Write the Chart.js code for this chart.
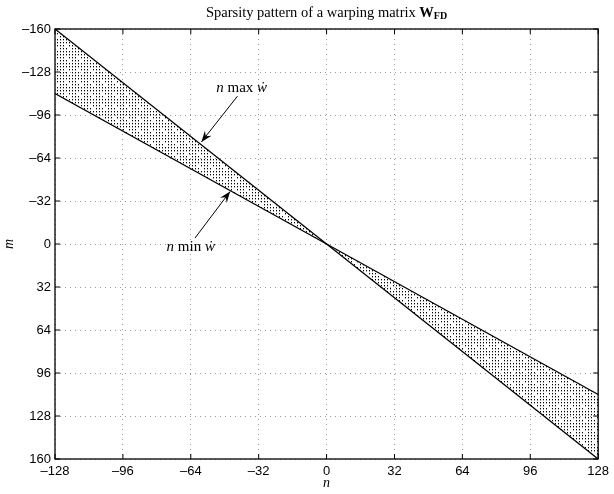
<!DOCTYPE html>
<html>
<head>
<meta charset="utf-8">
<script src="https://cdn.jsdelivr.net/npm/chart.js@4/dist/chart.umd.min.js"></script>
<style>
body { margin: 0; background: #fff; }
</style>
</head>
<body>
<canvas id="chart" width="614" height="494"></canvas>
<script>
// band edges of the warping matrix (n on x, m on y)
var nValues = [-128, 0, 128];
var maxEdge = [-160, 0, 160];
var minEdge = [-112, 0, 112];

var xTicks = [-128, -96, -64, -32, 0, 32, 64, 96, 128];
var yTicks = [-160, -128, -96, -64, -32, 0, 32, 64, 96, 128, 160];

// labels with arrows, in data units: text centre, arrow tail, arrow tip
var notes = [
    { parts: [['n', 'italic'], [' max ', ''], ['\u1E87', 'italic']], text: [-40, -116], from: [-42, -110], to: [-59, -76] },
    { parts: [['n', 'italic'], [' min ', ''], ['\u1E87', 'italic']], text: [-64, 2.5], from: [-62, -4.5], to: [-45.5, -39] }
];

var serif = '"Liberation Serif", "DejaVu Serif", serif';
var sans = '"Liberation Sans", Arial, sans-serif';

function dotPattern() {
    var c = document.createElement('canvas');
    c.width = 12; c.height = 12;
    var g = c.getContext('2d');
    g.fillStyle = '#000';
    var dots = [[0,0],[0,3],[0,6],[0,9],[3,0],[3,6],[3,9],[6,0],[6,3],[6,6],[9,3],[9,6],[9,9],[3,3]];
    dots.forEach(function (d) { g.fillRect(d[0], d[1], 1, 1); });
    g.fillStyle = 'rgba(0,0,0,0.35)';
    dots.forEach(function (d) { g.fillRect(d[0], d[1] + 1, 1, 1); });
    return document.getElementById('chart').getContext('2d').createPattern(c, 'repeat');
}

function dash(v) {
    return String(v).replace('-', '\u2013');
}

function drawArrow(ctx, x0, y0, x1, y1) {
    ctx.beginPath();
    ctx.moveTo(x0, y0);
    ctx.lineTo(x1, y1);
    ctx.stroke();
    var a = Math.atan2(y1 - y0, x1 - x0);
    var L = 11, W = 4.2;
    var c = Math.cos(a), s = Math.sin(a);
    ctx.beginPath();
    ctx.moveTo(x1, y1);
    ctx.lineTo(x1 - L * c + W * s, y1 - L * s - W * c);
    ctx.lineTo(x1 - 0.65 * L * c, y1 - 0.65 * L * s);
    ctx.lineTo(x1 - L * c - W * s, y1 - L * s + W * c);
    ctx.closePath();
    ctx.fill();
}

function drawParts(ctx, parts, cx, cy) {
    var total = 0;
    parts.forEach(function (p) {
        ctx.font = p.font;
        p.w = ctx.measureText(p.t).width;
        total += p.w;
    });
    var x = cx - total / 2;
    ctx.textAlign = 'left';
    ctx.textBaseline = 'middle';
    parts.forEach(function (p) {
        ctx.font = p.font;
        ctx.fillText(p.t, x, cy + (p.dy || 0));
        x += p.w;
    });
}

var framePlugin = {
    id: 'frame',
    afterDatasetsDraw: function (chart) {
        var ctx = chart.ctx, a = chart.chartArea;
        var xs = chart.scales.x, ys = chart.scales.y;
        ctx.save();
        ctx.strokeStyle = '#000';
        ctx.fillStyle = '#000';
        ctx.lineWidth = 1.3;
        ctx.strokeRect(a.left, a.top, a.right - a.left, a.bottom - a.top);
        ctx.lineWidth = 1;
        ctx.beginPath();
        xTicks.forEach(function (v) {
            var px = xs.getPixelForValue(v);
            ctx.moveTo(px, a.bottom); ctx.lineTo(px, a.bottom - 5);
            ctx.moveTo(px, a.top); ctx.lineTo(px, a.top + 5);
        });
        yTicks.forEach(function (v) {
            var py = ys.getPixelForValue(v);
            ctx.moveTo(a.left, py); ctx.lineTo(a.left + 5, py);
            ctx.moveTo(a.right, py); ctx.lineTo(a.right - 5, py);
        });
        ctx.stroke();

        notes.forEach(function (n) {
            drawArrow(ctx, xs.getPixelForValue(n.from[0]), ys.getPixelForValue(n.from[1]),
                xs.getPixelForValue(n.to[0]), ys.getPixelForValue(n.to[1]));
            drawParts(ctx, n.parts.map(function (p) {
                return { t: p[0], font: (p[1] ? p[1] + ' ' : '') + '15px ' + serif };
            }), xs.getPixelForValue(n.text[0]), ys.getPixelForValue(n.text[1]));
        });

        drawParts(ctx, [
            { t: 'Sparsity pattern of a warping matrix ', font: '14.5px ' + serif },
            { t: 'W', font: 'bold 14.5px ' + serif },
            { t: 'FD', font: 'bold 10px ' + serif, dy: 3 }
        ], (a.left + a.right) / 2, 13);
        ctx.restore();
    }
};

var chart = new Chart(document.getElementById('chart'), {
    type: 'line',
    data: {
        labels: nValues,
        datasets: [
            {
                label: 'n max w',
                data: nValues.map(function (n, i) { return { x: n, y: maxEdge[i] }; }),
                borderColor: '#000',
                borderWidth: 1.3,
                pointRadius: 0,
                fill: false
            },
            {
                label: 'n min w',
                data: nValues.map(function (n, i) { return { x: n, y: minEdge[i] }; }),
                borderColor: '#000',
                borderWidth: 1.3,
                pointRadius: 0,
                backgroundColor: dotPattern(),
                fill: { target: 0 }
            }
        ]
    },
    options: {
        responsive: false,
        animation: false,
        devicePixelRatio: 1,
        layout: { padding: { top: 29, right: 10, left: 0, bottom: 0 } },
        plugins: { legend: { display: false }, tooltip: { enabled: false } },
        scales: {
            x: {
                type: 'linear',
                min: -128, max: 128,
                afterBuildTicks: function (s) { s.ticks = xTicks.map(function (v) { return { value: v }; }); },
                afterFit: function (s) { s.height = 35; },
                grid: { color: '#9a9a9a', lineWidth: 1, drawTicks: false },
                border: { display: false, dash: [1, 4] },
                ticks: { color: '#000', padding: 5, maxRotation: 0, font: { family: sans, size: 13 }, callback: dash },
                title: { display: true, text: 'n', color: '#000', padding: { top: 0, bottom: 2 }, font: { family: serif, size: 14, style: 'italic' } }
            },
            y: {
                type: 'linear',
                reverse: true,
                min: -160, max: 160,
                afterBuildTicks: function (s) { s.ticks = yTicks.map(function (v) { return { value: v }; }); },
                afterFit: function (s) { s.width = 55; },
                grid: { color: '#9a9a9a', lineWidth: 1, drawTicks: false },
                border: { display: false, dash: [1, 4] },
                ticks: { color: '#000', padding: 4, font: { family: sans, size: 13 }, callback: dash },
                title: { display: true, text: 'm', color: '#000', padding: { top: 1, bottom: 0 }, font: { family: serif, size: 14, style: 'italic' } }
            }
        }
    },
    plugins: [framePlugin]
});
</script>
</body>
</html>
